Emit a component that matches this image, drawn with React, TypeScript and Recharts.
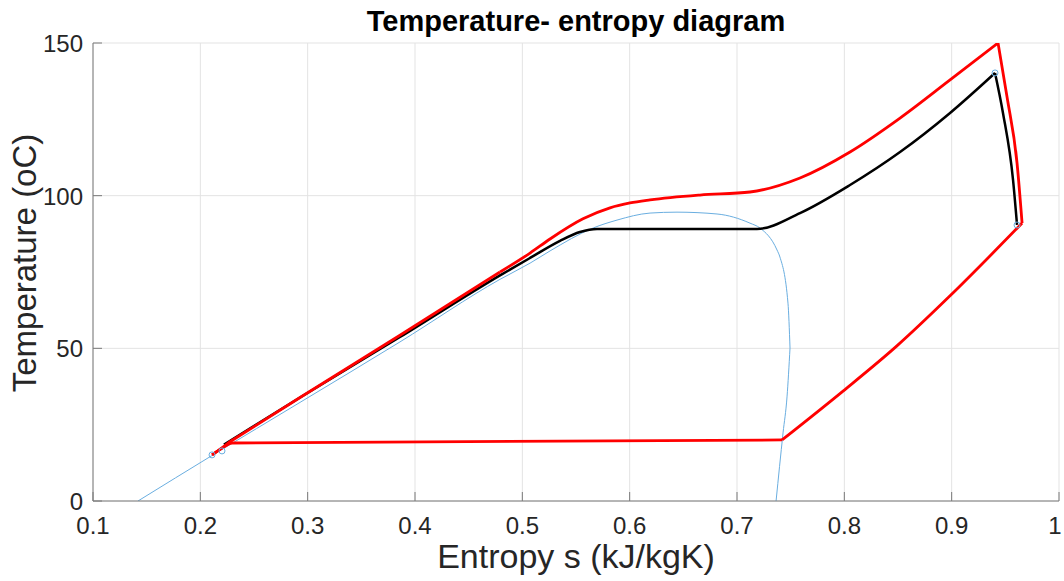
import { ComposedChart, Line, Scatter, XAxis, YAxis, CartesianGrid } from 'recharts';

// saturation dome: liquid side + top (x rising), then vapour side below 50 C
const domeS = [0.1419, 0.2118, 0.2929, 0.386, 0.4792, 0.5072, 0.5258, 0.5659, 0.5882, 0.619, 0.6441, 0.6814, 0.7121, 0.7214, 0.7373, 0.74, 0.7475, 0.7494];
const domeT = [0, 15.1, 32.3, 52.1, 72.6, 77.9, 81.9, 89.4, 92.0, 94.3, 94.6, 94.0, 91.0, 89.4, 82.2, 79.9, 64.8, 50.1];
const domeLowS = [0.7364, 0.7429, 0.7466, 0.7494];
const domeLowT = [0, 22.3, 34.1, 50.1];

// ideal cycle (black)
const idealS = [0.222, 0.2929, 0.386, 0.4792, 0.5072, 0.5351, 0.5537, 0.5696, 0.7186, 0.7587, 0.8053, 0.8519, 0.8985, 0.9404];
const idealT = [18.5, 33.9, 53.7, 73.9, 79.6, 85.2, 88.1, 89.1, 89.1, 94.3, 103.5, 114.3, 127.1, 140.2];
const idealExpS = [0.9404, 0.9478, 0.9572, 0.9609];
const idealExpT = [140.2, 127.1, 105.1, 90.4];

// real cycle (red)
const realLiqS = [0.2109, 0.2202, 0.2276, 0.2929, 0.386, 0.4792];
const realLiqT = [15.1, 17.4, 19.4, 33.9, 54.3, 75.0];
const realS = [0.4792, 0.5072, 0.5258, 0.5565, 0.5817, 0.6003, 0.619, 0.6655, 0.7121, 0.7587, 0.8053, 0.8519, 0.8985, 0.9432];
const realT = [75.0, 81.2, 85.8, 92.4, 96.0, 97.6, 98.6, 100.2, 101.2, 105.8, 114.3, 125.4, 137.9, 150.0];
const realExpS = [0.9432, 0.9516, 0.9609, 0.9656];
const realExpT = [150.0, 132.3, 110.7, 91.0];
const realCoolS = [0.742, 0.7988, 0.849, 0.8985, 0.9656];
const realCoolT = [20.0, 36.0, 50.8, 67.2, 91.0];
const realCondS = [0.2109, 0.222, 0.2295, 0.742];
const realCondT = [15.1, 17.7, 19.0, 20.0];

// state points
const pointS = [0.2109, 0.2202, 0.9404, 0.9609];
const pointT = [15.1, 16.4, 140.2, 90.4];

const xTicks = [0.1, 0.2, 0.3, 0.4, 0.5, 0.6, 0.7, 0.8, 0.9, 1];
const yTicks = [0, 50, 100, 150];

const zip = (s: number[], t: number[]) => s.map((v, i) => ({ s: v, T: t[i] }));

const FONT = 'Arial, "Liberation Sans", Helvetica, sans-serif';
const AXIS = '#7a7a7a';

function XTick({ x, y, payload }: any) {
  const last = payload.value === 1;
  return (
    <g>
      <line x1={x} x2={x} y1={y} y2={y - 9} stroke={AXIS} strokeWidth={1} />
      <text x={last ? x - 4 : x} y={y + 33} textAnchor="middle" fontSize={24} fill="#262626" fontFamily={FONT}>
        {String(payload.value)}
      </text>
    </g>
  );
}

function YTick({ x, y, payload }: any) {
  return (
    <g>
      <line x1={x} x2={x + 9} y1={y} y2={y} stroke={AXIS} strokeWidth={1} />
      <text x={x - 10} y={y + 9} textAnchor="end" fontSize={24} fill="#262626" fontFamily={FONT}>
        {String(payload.value)}
      </text>
    </g>
  );
}

function Ring({ cx, cy }: any) {
  return <circle cx={cx} cy={cy} r={3} fill="none" stroke="#6aaee0" strokeWidth={1} />;
}

const seg = (key: string, s: number[], t: number[], color: string, w: number, type: 'monotone' | 'linear' = 'monotone') => (
  <Line
    key={key}
    data={zip(s, t)}
    dataKey="T"
    type={type}
    stroke={color}
    strokeWidth={w}
    dot={false}
    activeDot={false}
    isAnimationActive={false}
  />
);

export default function App() {
  return (
    <div style={{ position: 'absolute', left: 0, top: 0, width: 1064, height: 581, background: '#fff', fontFamily: FONT }}>
      <ComposedChart width={1064} height={581} margin={{ top: 43, right: 5, bottom: 79, left: 92 }}>
        <CartesianGrid stroke="#e3e3e3" />
        <XAxis
          dataKey="s"
          type="number"
          domain={[0.1, 1]}
          ticks={xTicks}
          height={1}
          tickSize={0}
          tickMargin={0}
          tick={<XTick />}
          tickLine={false}
          stroke={AXIS}
          interval={0}
          allowDataOverflow
        />
        <YAxis
          dataKey="T"
          type="number"
          domain={[0, 150]}
          ticks={yTicks}
          width={1}
          tickSize={0}
          tickMargin={0}
          tick={<YTick />}
          tickLine={false}
          stroke={AXIS}
          interval={0}
          allowDataOverflow
        />
        {seg('dome', domeS, domeT, '#6aaee0', 1)}
        {seg('domeLow', domeLowS, domeLowT, '#6aaee0', 1)}
        {seg('ideal', idealS, idealT, '#000000', 2.5)}
        {seg('idealExp', idealExpS, idealExpT, '#000000', 2.5)}
        {seg('realLiq', realLiqS, realLiqT, '#ff0000', 2.8, 'linear')}
        {seg('real', realS, realT, '#ff0000', 2.8)}
        {seg('realExp', realExpS, realExpT, '#ff0000', 2.8)}
        {seg('realCool', realCoolS, realCoolT, '#ff0000', 2.8)}
        {seg('realCond', realCondS, realCondT, '#ff0000', 2.8)}
        <Scatter data={zip(pointS, pointT)} dataKey="T" shape={<Ring />} isAnimationActive={false} />
      </ComposedChart>
      <div style={{ position: 'absolute', left: 0, width: 1152, top: 5, textAlign: 'center', fontSize: 29, fontWeight: 'bold', color: '#000' }}>
        Temperature- entropy diagram
      </div>
      <div style={{ position: 'absolute', left: 0, width: 1152, top: 539, lineHeight: 1, textAlign: 'center', fontSize: 34, color: '#262626' }}>
        Entropy s (kJ/kgK)
      </div>
      <div
        style={{
          position: 'absolute',
          left: 24,
          top: 263,
          transform: 'translate(-50%, -50%) rotate(-90deg)',
          whiteSpace: 'nowrap',
          lineHeight: 1,
          fontSize: 33,
          color: '#262626',
        }}
      >
        Temperature (oC)
      </div>
    </div>
  );
}
